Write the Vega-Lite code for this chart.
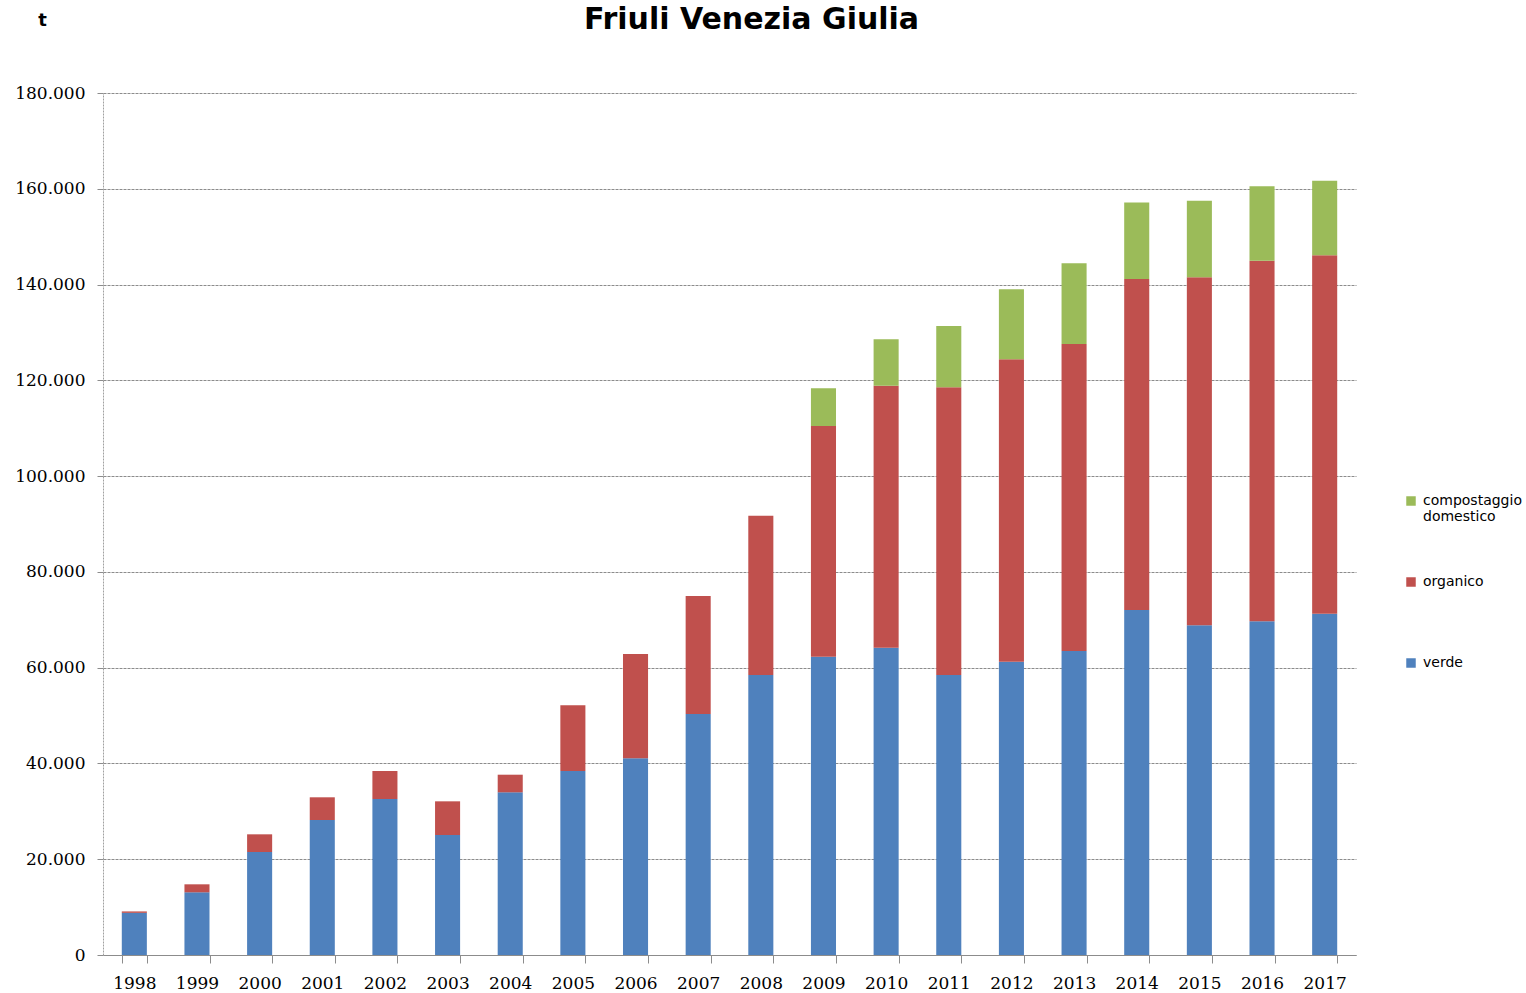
{
  "$schema": "https://vega.github.io/schema/vega-lite/v6.json",
  "width": 1253,
  "height": 862,
  "autosize": {"type": "none"},
  "padding": {"left": 103, "top": 93, "right": 170, "bottom": 38},
  "background": "white",
  "config": {
    "locale": {"number": {"decimal": ",", "thousands": ".", "grouping": [3], "currency": ["€", ""]}},
    "view": {"stroke": null}
  },
  "title": {
    "text": "Friuli Venezia Giulia",
    "font": "DejaVu Sans",
    "fontSize": 30,
    "fontWeight": "bold",
    "color": "black",
    "anchor": "middle",
    "baseline": "bottom",
    "dx": 22,
    "offset": -54
  },
  "data": {
    "values": [
      {"anno": "1998", "serie": "verde", "t": 8800},
      {"anno": "1998", "serie": "organico", "t": 300},
      {"anno": "1999", "serie": "verde", "t": 13090},
      {"anno": "1999", "serie": "organico", "t": 1670},
      {"anno": "2000", "serie": "verde", "t": 21510},
      {"anno": "2000", "serie": "organico", "t": 3690},
      {"anno": "2001", "serie": "verde", "t": 28190},
      {"anno": "2001", "serie": "organico", "t": 4740},
      {"anno": "2002", "serie": "verde", "t": 32570},
      {"anno": "2002", "serie": "organico", "t": 5850},
      {"anno": "2003", "serie": "verde", "t": 25060},
      {"anno": "2003", "serie": "organico", "t": 7030},
      {"anno": "2004", "serie": "verde", "t": 33970},
      {"anno": "2004", "serie": "organico", "t": 3680},
      {"anno": "2005", "serie": "verde", "t": 38420},
      {"anno": "2005", "serie": "organico", "t": 13720},
      {"anno": "2006", "serie": "verde", "t": 41070},
      {"anno": "2006", "serie": "organico", "t": 21780},
      {"anno": "2007", "serie": "verde", "t": 50320},
      {"anno": "2007", "serie": "organico", "t": 24650},
      {"anno": "2008", "serie": "verde", "t": 58470},
      {"anno": "2008", "serie": "organico", "t": 33260},
      {"anno": "2009", "serie": "verde", "t": 62290},
      {"anno": "2009", "serie": "organico", "t": 48170},
      {"anno": "2009", "serie": "compostaggio domestico", "t": 7870},
      {"anno": "2010", "serie": "verde", "t": 64170},
      {"anno": "2010", "serie": "organico", "t": 54710},
      {"anno": "2010", "serie": "compostaggio domestico", "t": 9680},
      {"anno": "2011", "serie": "verde", "t": 58470},
      {"anno": "2011", "serie": "organico", "t": 60070},
      {"anno": "2011", "serie": "compostaggio domestico", "t": 12800},
      {"anno": "2012", "serie": "verde", "t": 61250},
      {"anno": "2012", "serie": "organico", "t": 63140},
      {"anno": "2012", "serie": "compostaggio domestico", "t": 14610},
      {"anno": "2013", "serie": "verde", "t": 63480},
      {"anno": "2013", "serie": "organico", "t": 64100},
      {"anno": "2013", "serie": "compostaggio domestico", "t": 16850},
      {"anno": "2014", "serie": "verde", "t": 72040},
      {"anno": "2014", "serie": "organico", "t": 69110},
      {"anno": "2014", "serie": "compostaggio domestico", "t": 16010},
      {"anno": "2015", "serie": "verde", "t": 68840},
      {"anno": "2015", "serie": "organico", "t": 72670},
      {"anno": "2015", "serie": "compostaggio domestico", "t": 15990},
      {"anno": "2016", "serie": "verde", "t": 69680},
      {"anno": "2016", "serie": "organico", "t": 75290},
      {"anno": "2016", "serie": "compostaggio domestico", "t": 15540},
      {"anno": "2017", "serie": "verde", "t": 71270},
      {"anno": "2017", "serie": "organico", "t": 74830},
      {"anno": "2017", "serie": "compostaggio domestico", "t": 15580}
    ]
  },
  "mark": {"type": "bar"},
  "encoding": {
    "x": {
      "field": "anno",
      "type": "ordinal",
      "scale": {"paddingInner": 0.6, "paddingOuter": 0.3},
      "axis": {
        "title": null,
        "labelAngle": 0,
        "tickBand": "extent",
        "tickSize": 8,
        "tickColor": "#8c8c8c",
        "domainColor": "#8c8c8c",
        "labelPadding": 12,
        "labelFont": "DejaVu Serif",
        "labelFontSize": 17,
        "labelColor": "black",
        "grid": false
      }
    },
    "y": {
      "field": "t",
      "type": "quantitative",
      "stack": "zero",
      "scale": {"domain": [0, 180000], "nice": false},
      "axis": {
        "values": [0, 20000, 40000, 60000, 80000, 100000, 120000, 140000, 160000, 180000],
        "format": ",d",
        "title": "t",
        "titleAngle": 0,
        "titleAlign": "center",
        "titleBaseline": "middle",
        "titleX": -61,
        "titleY": -73,
        "titleFont": "DejaVu Sans",
        "titleFontSize": 18,
        "titleFontWeight": "bold",
        "titleColor": "black",
        "labelFont": "DejaVu Serif",
        "labelFontSize": 17,
        "labelColor": "black",
        "labelPadding": 12,
        "tickSize": 6,
        "tickColor": "#8c8c8c",
        "domainColor": "#a0a0a0",
        "domainDash": [2, 1],
        "grid": true,
        "gridColor": "#8c8c8c",
        "gridDash": [3, 1],
        "gridWidth": 1
      }
    },
    "color": {
      "field": "serie",
      "type": "nominal",
      "scale": {
        "domain": ["compostaggio domestico", "organico", "verde"],
        "range": ["#9BBB59", "#C0504D", "#4F81BD"]
      },
      "legend": {
        "title": null,
        "orient": "none",
        "legendX": 1301,
        "legendY": 401,
        "padding": 0,
        "symbolType": "square",
        "symbolSize": 90,
        "symbolStrokeWidth": 0,
        "labelFont": "DejaVu Sans",
        "labelFontSize": 14,
        "labelColor": "black",
        "labelOffset": 5,
        "gridAlign": "all",
        "rowPadding": 51,
        "labelExpr": "datum.value == 'compostaggio domestico' ? ['compostaggio', 'domestico'] : datum.label"
      }
    },
    "order": {"field": "serie", "sort": "descending"}
  }
}
